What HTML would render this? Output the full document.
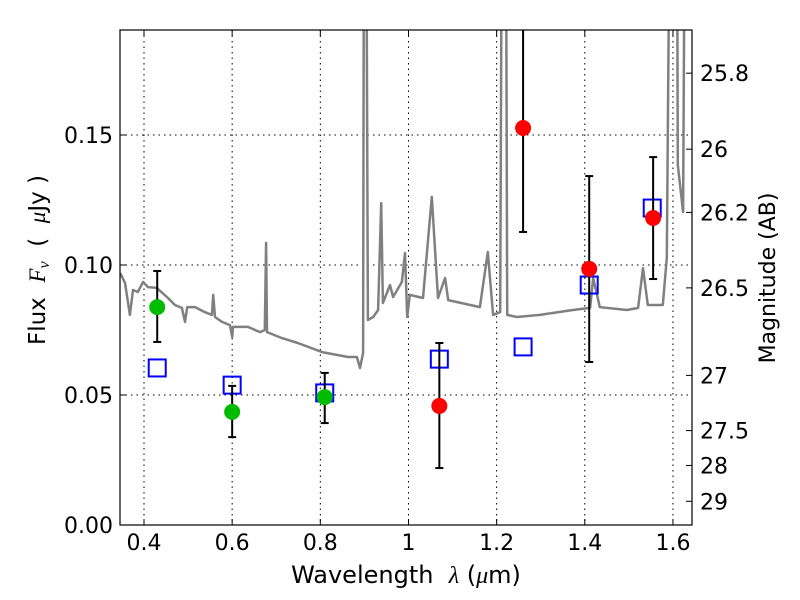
<!DOCTYPE html>
<html><head><meta charset="utf-8"><style>
body{margin:0;background:#fff;}
svg{display:block;font-family:"DejaVu Sans","Liberation Sans",sans-serif;}
</style></head><body>
<svg id="chart" width="800" height="600" viewBox="0 0 800 600" xmlns="http://www.w3.org/2000/svg">
<rect width="800" height="600" fill="#fff"/>
<defs><clipPath id="pc"><rect x="120" y="30" width="572" height="495"/></clipPath></defs>
<g id="grid"></g>
<g id="spec" clip-path="url(#pc)"></g>
<g id="marks" clip-path="url(#pc)"></g>
<rect x="120" y="30" width="572" height="495" fill="none" stroke="#000" stroke-width="1.2"/>
<g id="axes"></g>
<text x="406" y="583" font-size="24" text-anchor="middle" xml:space="preserve">Wavelength  <tspan font-family="Liberation Serif" font-style="italic">λ</tspan> (<tspan font-family="Liberation Serif" font-style="italic">μ</tspan>m)</text>
<text transform="translate(45,260) rotate(-90)" font-size="23" text-anchor="middle" xml:space="preserve">Flux  <tspan font-family="Liberation Serif" font-style="italic">F<tspan font-size="16" dy="4">ν</tspan></tspan><tspan dy="-4">  (  </tspan><tspan font-family="Liberation Serif" font-style="italic">μ</tspan>Jy )</text>
<text transform="translate(775,278) rotate(-90)" font-size="22" text-anchor="middle">Magnitude (AB)</text>
</svg>
<script>
const specWl=[0.346,0.357,0.368,0.375,0.386,0.398,0.409,0.429,0.452,0.470,0.486,0.493,0.498,0.516,0.538,0.554,0.557,0.561,0.577,0.595,0.600,0.602,0.636,0.663,0.674,0.677,0.679,0.713,0.749,0.804,0.863,0.883,0.890,0.897,0.899,0.904,0.908,0.920,0.931,0.938,0.942,0.958,0.965,0.985,0.992,0.997,1.003,1.033,1.053,1.067,1.083,1.090,1.162,1.180,1.192,1.208,1.212,1.221,1.224,1.246,1.298,1.373,1.412,1.419,1.434,1.496,1.521,1.532,1.543,1.577,1.586,1.593,1.609,1.611,1.623,1.627];
const specFlux=[0.0969,0.0931,0.0808,0.0904,0.0896,0.0935,0.0915,0.0912,0.0877,0.0846,0.0835,0.0781,0.0838,0.0838,0.0819,0.0808,0.0885,0.0800,0.0781,0.0769,0.0723,0.0762,0.0762,0.0742,0.0750,0.1085,0.0742,0.0719,0.0700,0.0665,0.0646,0.0646,0.0604,0.0662,0.25,0.25,0.0788,0.0800,0.0827,0.1238,0.0854,0.0923,0.0877,0.0935,0.1046,0.0800,0.0885,0.0873,0.1262,0.0873,0.0950,0.0865,0.0838,0.1050,0.0808,0.0819,0.25,0.25,0.0808,0.0800,0.0808,0.0827,0.0835,0.0950,0.0838,0.0827,0.0835,0.0988,0.0846,0.0846,0.1027,0.25,0.25,0.1385,0.1204,0.25];
const greenWl=[0.43,0.60,0.81];
const greenFlux=[0.0838,0.0435,0.0492];
const greenLo=[0.0704,0.0338,0.0392];
const greenHi=[0.0977,0.0535,0.0585];
const redWl=[1.07,1.26,1.41,1.555];
const redFlux=[0.0458,0.1527,0.0985,0.1181];
const redLo=[0.0219,0.1127,0.0627,0.0946];
const redHi=[0.0700,0.2000,0.1342,0.1415];
const modelWl=[0.43,0.60,0.81,1.07,1.26,1.41,1.553];
const modelFlux=[0.0604,0.0538,0.0508,0.0638,0.0685,0.0923,0.1219];
const xTicks=[0.4,0.6,0.8,1.0,1.2,1.4,1.6];
const xTickLabels=["0.4","0.6","0.8","1","1.2","1.4","1.6"];
const yTicks=[0,0.05,0.10,0.15];
const yTickLabels=["0.00","0.05","0.10","0.15"];
const magTicks=[25.8,26,26.2,26.5,27,27.5,28,29];
const magTickLabels=["25.8","26","26.2","26.5","27","27.5","28","29"];

const X=w=>144+(w-0.4)*440.8;
const Y=f=>525-f*2600;
const magToFlux=m=>Math.pow(10,(23.9-m)/2.5);
const NS="http://www.w3.org/2000/svg";
function mk(tag,attrs,parent){const e=document.createElementNS(NS,tag);for(const k in attrs)e.setAttribute(k,attrs[k]);parent.appendChild(e);return e;}
const grid=document.getElementById('grid'),axes=document.getElementById('axes'),spec=document.getElementById('spec'),marks=document.getElementById('marks');

xTicks.forEach((t,i)=>{const x=X(t);
 const g=mk('line',{x1:x,x2:x,y1:30,y2:525,stroke:'#000','stroke-dasharray':'1.5,4','stroke-width':1},grid);
 
 
 mk('line',{x1:x,x2:x,y1:525,y2:519,stroke:'#000'},axes);
 mk('line',{x1:x,x2:x,y1:30,y2:36,stroke:'#000'},axes);
 const l=mk('text',{x:x,y:550,'font-size':22,'text-anchor':'middle'},axes);l.textContent=xTickLabels[i];
 
 
});
yTicks.forEach((t,i)=>{const y=Y(t);
 if(t>0){const g=mk('line',{x1:120,x2:692,y1:y,y2:y,stroke:'#000','stroke-dasharray':'1.5,4','stroke-width':1},grid);
 
 }
 mk('line',{x1:120,x2:126,y1:y,y2:y,stroke:'#000'},axes);
 const l=mk('text',{x:113,y:y+8,'font-size':22,'text-anchor':'end'},axes);l.textContent=yTickLabels[i];
 
 
});
magTicks.forEach((m,i)=>{const y=Y(magToFlux(m));
 mk('line',{x1:686,x2:692,y1:y,y2:y,stroke:'#000'},axes);
 const l=mk('text',{x:700,y:y+8,'font-size':22},axes);l.textContent=magTickLabels[i];
 
 
});
const pts=specWl.map((w,i)=>X(w).toFixed(1)+','+Y(specFlux[i]).toFixed(1)).join(' ');
const pl=mk('polyline',{points:pts,fill:'none',stroke:'#808080','stroke-width':2.5,'stroke-linejoin':'round'},spec);



function errbar(w,lo,hi){const x=X(w);
 mk('line',{x1:x,x2:x,y1:Y(lo),y2:Y(hi),stroke:'#000','stroke-width':2},marks);
 mk('line',{x1:x-4,x2:x+4,y1:Y(lo),y2:Y(lo),stroke:'#000','stroke-width':2},marks);
 mk('line',{x1:x-4,x2:x+4,y1:Y(hi),y2:Y(hi),stroke:'#000','stroke-width':2},marks);}
modelWl.forEach((w,i)=>{
 const r=mk('rect',{x:X(w)-8.5,y:Y(modelFlux[i])-8.5,width:17,height:17,fill:'none',stroke:'#0000ff','stroke-width':2},marks);
 
 
});
greenWl.forEach((w,i)=>{errbar(w,greenLo[i],greenHi[i]);
 const c=mk('circle',{cx:X(w),cy:Y(greenFlux[i]),r:8,fill:'#00bb00'},marks);
 
 
});
redWl.forEach((w,i)=>{errbar(w,redLo[i],redHi[i]);
 const c=mk('circle',{cx:X(w),cy:Y(redFlux[i]),r:8,fill:'#ff0000'},marks);
 
 
});
</script>
</body></html>
